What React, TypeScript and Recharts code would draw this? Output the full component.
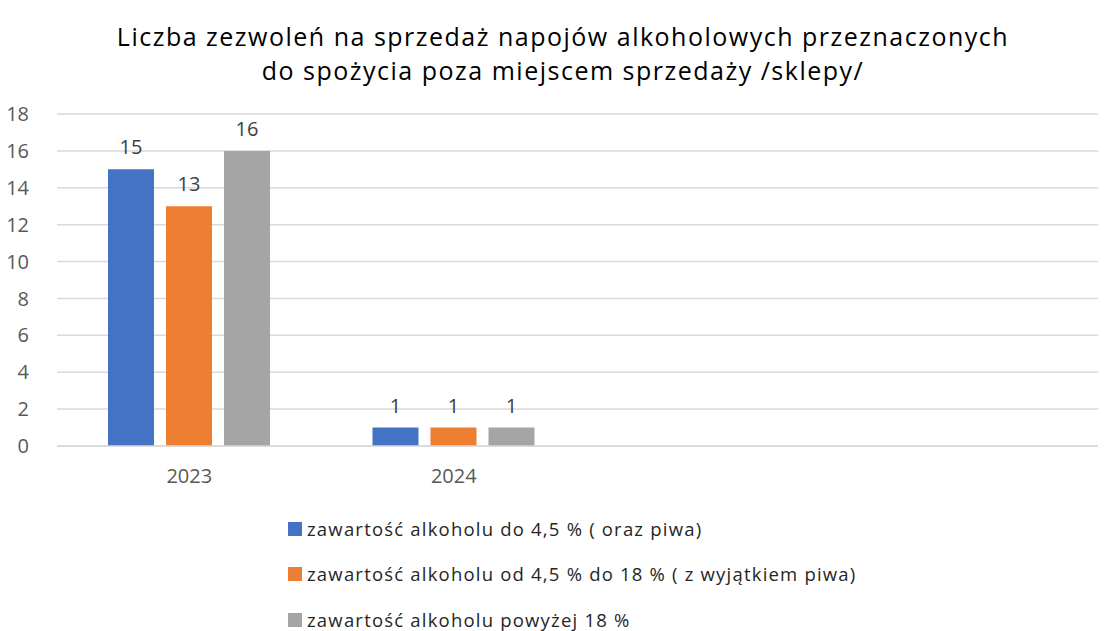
import React from 'react';
import { BarChart, Bar, XAxis, YAxis, CartesianGrid, LabelList } from 'recharts';

const categories = ['2023', '2024', '', ''];
const upTo45 = [15, 1, null, null];
const from45To18 = [13, 1, null, null];
const above18 = [16, 1, null, null];
const yTicks = [0, 2, 4, 6, 8, 10, 12, 14, 16, 18];

const SERIES = [
    { key: 'upTo45', name: 'zawartość alkoholu do 4,5 % ( oraz piwa)', color: '#4472C4' },
    { key: 'from45To18', name: 'zawartość alkoholu od 4,5 % do 18 % ( z wyjątkiem piwa)', color: '#ED7D31' },
    { key: 'above18', name: 'zawartość alkoholu powyżej 18 %', color: '#A5A5A5' },
];

const data = categories.map((year, i) => ({
    year,
    upTo45: upTo45[i],
    from45To18: from45To18[i],
    above18: above18[i],
}));

const FONT = '"Open Sans", "Noto Sans", sans-serif';

// legend drawn as plain html under the plot
function ChartLegend() {
    return (
        <div
            style={{
                position: 'absolute',
                left: 288,
                top: 506,
                fontFamily: FONT,
                fontSize: 18.5,
                letterSpacing: 1.2,
                color: '#262626',
            }}
        >
            {SERIES.map((s) => (
                <div key={s.key} style={{ display: 'flex', alignItems: 'center', height: 45.5, whiteSpace: 'nowrap' }}>
                    <span style={{ width: 14, height: 14, background: s.color, marginRight: 5, flex: 'none' }} />
                    <span style={{ lineHeight: '16px' }}>{s.name}</span>
                </div>
            ))}
        </div>
    );
}

export default function App() {
    return (
        <div style={{ position: 'relative', left: -8, top: -8, width: 1106, height: 631, overflow: 'hidden', background: '#fff' }}>
            <div
                style={{
                    position: 'absolute',
                    top: 19,
                    left: 10,
                    width: 1106,
                    textAlign: 'center',
                    fontFamily: FONT,
                    fontSize: 25,
                    letterSpacing: 1.5,
                    lineHeight: '34px',
                    color: '#000',
                }}
            >
                Liczba zezwoleń na sprzedaż napojów alkoholowych przeznaczonych
                <br />
                do spożycia poza miejscem sprzedaży /sklepy/
            </div>
            <BarChart
                width={1120}
                height={631}
                data={data}
                margin={{ top: 114, right: 5, left: 0, bottom: 155 }}
                barSize={46}
                barGap={12}
            >
                <CartesianGrid vertical={false} stroke="#D9D9D9" strokeWidth={1.5} />
                <XAxis
                    dataKey="year"
                    axisLine={{ stroke: '#D9D9D9', strokeWidth: 1.5 }}
                    tickLine={false}
                    tick={{ fill: '#595959', fontSize: 20, fontFamily: FONT }}
                    tickMargin={17}
                    height={30}
                />
                <YAxis
                    domain={[0, 18]}
                    ticks={yTicks}
                    interval={0}
                    width={57}
                    axisLine={false}
                    tickLine={false}
                    tick={{ fill: '#595959', fontSize: 20, fontFamily: FONT }}
                    tickMargin={22}
                />
                {SERIES.map((s) => (
                    <Bar key={s.key} dataKey={s.key} name={s.name} fill={s.color} isAnimationActive={false}>
                        <LabelList
                            dataKey={s.key}
                            position="top"
                            offset={15}
                            fill="#404040"
                            fontSize={20}
                            fontFamily={FONT}
                        />
                    </Bar>
                ))}
            </BarChart>
            <ChartLegend />
        </div>
    );
}
